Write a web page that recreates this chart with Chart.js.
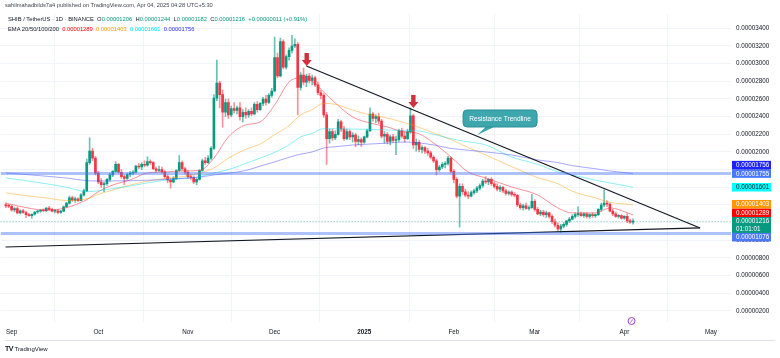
<!DOCTYPE html>
<html>
<head>
<meta charset="utf-8">
<title>SHIB / TetherUS 1D</title>
<script src="https://cdn.jsdelivr.net/npm/chart.js@4.4.1/dist/chart.umd.min.js"></script>
<style>
  body { margin: 0; background: #fff; font-family: "Liberation Sans", Arial, sans-serif; }
  #wrap { position: relative; width: 780px; height: 358px; overflow: hidden; }
  canvas { position: absolute; left: 0; top: 0; }
  .txt { position: absolute; white-space: nowrap; color: #131722; line-height: 1; }
  .g { color: #089981; }
  #axisline { position: absolute; left: 5px; top: 340px; width: 770px; height: 1px; background: #e0e3eb; }
</style>
</head>
<body>
<div id="wrap">
  <canvas id="chart" width="780" height="358"></canvas>
  <div class="txt" style="left:5px;top:3px;font-size:5.7px;color:#434651">sahilmahadbilds7a4 published on TradingView.com, Apr 04, 2025 04:28 UTC+5:30</div>
  <div class="txt" style="left:8px;top:17px;font-size:5.8px">SHIB / TetherUS · 1D · BINANCE&nbsp;&nbsp;O<span class="g">0.00001206</span>&nbsp;&nbsp;H<span class="g">0.00001244</span>&nbsp;&nbsp;L<span class="g">0.00001182</span>&nbsp;&nbsp;C<span class="g">0.00001216</span>&nbsp;&nbsp;<span class="g">+0.00000011 (+0.91%)</span></div>
  <div class="txt" style="left:8px;top:27px;font-size:5.8px">EMA 20/50/100/200&nbsp;&nbsp;<span style="color:#ff0000">0.00001289</span>&nbsp;&nbsp;<span style="color:#ff9800">0.00001403</span>&nbsp;&nbsp;<span style="color:#00e5ff">0.00001601</span>&nbsp;&nbsp;<span style="color:#2b2bff">0.00001756</span></div>
  <div id="axisline"></div>
  <div class="txt" style="left:5px;top:345px;font-size:6px"><b style="font-size:7px;letter-spacing:-0.5px">TV</b>&nbsp;TradingView</div>
</div>
<script>
// prices in units of 0.00000001 USDT, one candle per day
// day 0 = 2024-09-01, first candle 2024-08-30
const firstDay = -2;

const open = [
  1400,1390,1385,1345,1360,1310,1335,1315,1290,1280,
  1295,1320,1330,1340,1335,1365,1350,1330,1335,1315,
  1330,1380,1420,1480,1455,1470,1450,1515,1560,1880,
  2010,1930,1760,1660,1630,1640,1690,1740,1780,1860,
  1770,1720,1700,1745,1760,1770,1840,1830,1860,1850,
  1890,1880,1810,1790,1800,1775,1720,1680,1660,1700,
  1790,1880,1810,1770,1720,1710,1660,1690,1790,1900,
  1880,1930,2040,2610,2780,2650,2450,2560,2420,2490,
  2470,2500,2400,2450,2420,2460,2430,2540,2480,2550,
  2600,2560,2640,2690,3070,2860,3250,2960,3080,3150,
  3200,3220,2730,2870,2790,2860,2810,2840,2760,2670,
  2640,2420,2150,2230,2160,2200,2340,2260,2150,2230,
  2170,2190,2120,2140,2110,2170,2240,2430,2380,2400,
  2350,2180,2200,2120,2170,2130,2140,2240,2180,2150,
  2230,2410,2080,2110,2030,2050,2010,1990,1940,1900,
  1800,1830,1860,1870,1930,1780,1690,1500,1610,1550,
  1510,1500,1540,1560,1590,1620,1670,1660,1690,1640,
  1610,1580,1600,1560,1530,1545,1520,1510,1400,1370,
  1390,1360,1370,1440,1350,1300,1320,1290,1310,1270,
  1210,1170,1130,1160,1180,1220,1240,1270,1290,1300,
  1280,1300,1270,1290,1280,1290,1350,1400,1420,1410,
  1330,1300,1270,1280,1250,1270,1220,1206
];
const high = [
  1425,1410,1395,1370,1375,1345,1350,1330,1305,1300,
  1325,1340,1350,1355,1370,1385,1365,1345,1350,1340,
  1390,1430,1500,1500,1490,1480,1530,1580,1920,2160,
  2040,1950,1780,1700,1660,1700,1760,1790,1890,1870,
  1800,1740,1760,1780,1790,1850,1870,1880,1900,1945,
  1910,1890,1830,1840,1830,1790,1740,1700,1720,1800,
  1960,1900,1830,1790,1750,1730,1700,1800,1920,1940,
  1960,2060,2650,3040,2800,2700,2600,2600,2520,2560,
  2520,2560,2480,2500,2480,2500,2560,2570,2560,2620,
  2640,2660,2720,3300,3120,3290,3270,3100,3180,3320,
  3280,3240,2900,2950,2880,2890,2870,2860,2790,2700,
  2660,2450,2260,2260,2240,2370,2360,2290,2260,2250,
  2220,2210,2180,2160,2180,2260,2500,2450,2420,2440,
  2370,2230,2220,2190,2200,2180,2260,2270,2230,2260,
  2500,2430,2150,2130,2070,2060,2040,2010,1960,1920,
  1850,1880,1890,1950,1945,1800,1710,1640,1640,1580,
  1550,1560,1580,1610,1640,1690,1720,1700,1710,1660,
  1640,1620,1610,1580,1560,1560,1540,1520,1420,1410,
  1420,1390,1520,1460,1370,1340,1340,1330,1320,1290,
  1240,1200,1180,1200,1230,1260,1290,1310,1380,1320,
  1310,1310,1300,1310,1300,1360,1420,1570,1450,1420,
  1350,1320,1290,1290,1280,1300,1240,1244
];
const low = [
  1370,1370,1330,1320,1300,1300,1305,1255,1270,1250,
  1285,1305,1315,1320,1325,1340,1320,1310,1300,1305,
  1325,1370,1410,1440,1430,1440,1445,1500,1550,1860,
  1900,1740,1640,1600,1550,1620,1670,1720,1770,1760,
  1700,1630,1690,1720,1740,1760,1810,1800,1830,1840,
  1860,1800,1770,1780,1760,1700,1650,1590,1650,1690,
  1780,1790,1750,1700,1690,1640,1630,1680,1780,1860,
  1870,1910,2030,2580,2500,2280,2400,2380,2400,2440,
  2430,2360,2340,2380,2390,2410,2420,2450,2470,2520,
  2530,2550,2620,2680,2840,2850,2940,2940,3040,3120,
  3180,2420,2700,2760,2740,2780,2760,2740,2650,2600,
  2390,1860,2100,2130,2140,2190,2230,2130,2140,2140,
  2110,2060,2080,2060,2100,2160,2230,2350,2330,2320,
  2160,2100,2090,2080,2110,1970,2120,2160,2110,2140,
  2210,2040,2010,2000,1990,1980,1960,1920,1880,1740,
  1780,1810,1820,1850,1760,1650,1480,1150,1520,1490,
  1470,1490,1520,1540,1570,1600,1640,1630,1620,1590,
  1560,1550,1540,1510,1510,1500,1490,1380,1350,1340,
  1350,1340,1360,1330,1290,1280,1270,1260,1250,1190,
  1150,1100,1090,1140,1160,1200,1230,1250,1270,1270,
  1260,1250,1250,1260,1260,1280,1330,1380,1380,1320,
  1280,1260,1250,1240,1240,1200,1190,1182
];
const close = [
  1390,1385,1345,1360,1310,1335,1315,1290,1280,1295,
  1320,1330,1340,1335,1365,1350,1330,1335,1315,1330,
  1380,1420,1480,1455,1470,1450,1515,1560,1880,2010,
  1930,1760,1660,1630,1640,1690,1740,1780,1860,1770,
  1720,1700,1745,1760,1770,1840,1830,1860,1850,1890,
  1880,1810,1790,1800,1775,1720,1680,1660,1700,1790,
  1880,1810,1770,1720,1710,1660,1690,1790,1900,1880,
  1930,2040,2610,2780,2650,2450,2560,2420,2490,2470,
  2500,2400,2450,2420,2460,2430,2540,2480,2550,2600,
  2560,2640,2690,3070,2860,3250,2960,3080,3150,3200,
  3220,2730,2870,2790,2860,2810,2840,2760,2670,2640,
  2420,2150,2230,2160,2200,2340,2260,2150,2230,2170,
  2190,2120,2140,2110,2170,2240,2430,2380,2400,2350,
  2180,2200,2120,2170,2130,2140,2240,2180,2150,2230,
  2410,2080,2110,2030,2050,2010,1990,1940,1900,1800,
  1830,1860,1870,1930,1780,1690,1500,1610,1550,1510,
  1500,1540,1560,1590,1620,1670,1660,1690,1640,1610,
  1580,1600,1560,1530,1545,1520,1510,1400,1370,1390,
  1360,1370,1440,1350,1300,1320,1290,1310,1270,1210,
  1170,1130,1160,1180,1220,1240,1270,1290,1300,1280,
  1300,1270,1290,1280,1290,1350,1400,1420,1410,1330,
  1300,1270,1280,1250,1270,1220,1206,1216
];

// moving averages at these days
const emaDays = [-2,5,12,19,26,30,35,41,47,53,59,65,70,75,81,86,91,96,100,104,108,112,118,124,130,136,140,146,152,158,164,173,182,189,194,202,207,215];
const ema20  = [1420,1370,1340,1370,1460,1550,1626,1683,1762,1773,1785,1790,1930,2170,2306,2340,2532,2792,2838,2800,2679,2555,2396,2328,2283,2226,2215,2102,1943,1773,1706,1604,1513,1366,1310,1310,1366,1289];
const ema50  = [1536,1505,1480,1450,1470,1520,1570,1625,1670,1700,1720,1760,1820,1930,2030,2090,2195,2300,2420,2480,2550,2540,2475,2420,2385,2330,2290,2215,2140,2050,1966,1835,1710,1640,1555,1480,1430,1403];
const ema100 = [1706,1675,1640,1600,1550,1560,1585,1615,1650,1680,1700,1720,1762,1800,1870,1930,1995,2080,2170,2210,2265,2262,2260,2255,2250,2240,2240,2200,2150,2115,2080,1943,1860,1775,1740,1680,1650,1601];
const ema200 = [1762,1745,1725,1705,1675,1672,1672,1675,1680,1688,1700,1715,1740,1760,1790,1840,1888,1940,1975,2000,2045,2060,2079,2090,2100,2113,2105,2080,2040,2020,2000,1966,1910,1880,1845,1810,1785,1756];

// drawn levels and trendlines (day, price)
const levels = [1755, 1076];
const resistance = [[102, 2973], [238.2, 1140]];
const support = [[-2.1, 924], [238.2, 1140]];
const arrowTips = [[102.1, 2973], [139, 2498]];
const callout = { text: 'Resistance Trendline', at: [169, 2379], tip: [161.1, 2192] };

const monthDays = [0, 30, 61, 91, 122, 153, 181, 212, 242];
const monthLabels = ['Sep', 'Oct', 'Nov', 'Dec', '2025', 'Feb', 'Mar', 'Apr', 'May'];
const priceTicks = [200, 400, 600, 800, 1000, 1200, 1400, 1600, 1800, 2000, 2200, 2400, 2600, 2800, 3000, 3200, 3400];

const xMin = -3.8, xMax = 248.9;
const yMin = 75, yMax = 3562;

const UP = '#089981', DOWN = '#f23645';
const fmt = v => (v / 1e8).toFixed(8);
const days = close.map((c, i) => firstDay + i);
const last = close.length - 1;

const bodyColors = close.map((c, i) => c >= open[i] ? UP : DOWN);
const wickColors = close.map((c, i) => c >= open[i] ? 'rgba(8,153,129,0.6)' : 'rgba(242,54,69,0.55)');

Chart.defaults.font.family = '"Liberation Sans", Arial, sans-serif';

function emaLine(values, color) {
    return {
        type: 'line',
        data: emaDays.map((d, i) => ({ x: d, y: values[i] })),
        borderColor: color,
        borderWidth: 1,
        pointRadius: 0,
        cubicInterpolationMode: 'monotone',
        fill: false,
        order: 2
    };
}

function straight(points, color, width) {
    return {
        type: 'line',
        data: points.map(p => ({ x: p[0], y: p[1] })),
        borderColor: color,
        borderWidth: width,
        pointRadius: 0,
        fill: false,
        order: 1
    };
}

const overlay = {
    id: 'overlay',
    afterDatasetsDraw(chart) {
        const { ctx, chartArea: a, scales: { x, y } } = chart;
        ctx.save();

        // last price line
        const py = Math.round(y.getPixelForValue(close[last])) + 0.5;
        ctx.strokeStyle = 'rgba(8,153,129,0.5)';
        ctx.lineWidth = 1;
        ctx.setLineDash([1, 2]);
        ctx.beginPath();
        ctx.moveTo(a.left, py);
        ctx.lineTo(a.right, py);
        ctx.stroke();
        ctx.setLineDash([]);

        // red arrows
        ctx.fillStyle = '#d1303c';
        for (const t of arrowTips) {
            const px = x.getPixelForValue(t[0]);
            const ty = y.getPixelForValue(t[1]);
            ctx.beginPath();
            ctx.moveTo(px, ty);
            ctx.lineTo(px - 5, ty - 6);
            ctx.lineTo(px - 2.2, ty - 6);
            ctx.lineTo(px - 2.2, ty - 13);
            ctx.lineTo(px + 2.2, ty - 13);
            ctx.lineTo(px + 2.2, ty - 6);
            ctx.lineTo(px + 5, ty - 6);
            ctx.closePath();
            ctx.fill();
        }

        // callout box
        const cx = x.getPixelForValue(callout.at[0]);
        const cy = y.getPixelForValue(callout.at[1]);
        const tx = x.getPixelForValue(callout.tip[0]);
        const ty = y.getPixelForValue(callout.tip[1]);
        const w = 74, h = 17;
        ctx.fillStyle = '#3ea7ae';
        ctx.strokeStyle = '#2b8f97';
        ctx.lineWidth = 1;
        ctx.beginPath();
        ctx.moveTo(cx - 14, cy + h / 2 - 0.5);
        ctx.lineTo(tx, ty);
        ctx.lineTo(cx - 5, cy + h / 2 - 0.5);
        ctx.closePath();
        ctx.fill();
        ctx.beginPath();
        ctx.roundRect(cx - w / 2, cy - h / 2, w, h, 4);
        ctx.fill();
        ctx.stroke();
        ctx.fillStyle = '#ffffff';
        ctx.font = '6.6px "Liberation Sans", Arial, sans-serif';
        ctx.textAlign = 'center';
        ctx.textBaseline = 'middle';
        ctx.fillText(callout.text, cx, cy + 0.5);

        // event marker on time axis
        const ex = x.getPixelForValue(214.5);
        ctx.strokeStyle = '#a43ad6';
        ctx.fillStyle = '#ffffff';
        ctx.beginPath();
        ctx.arc(ex, a.bottom - 1, 3.5, 0, Math.PI * 2);
        ctx.fill();
        ctx.stroke();
        ctx.beginPath();
        ctx.moveTo(ex - 1.2, a.bottom + 0.2);
        ctx.lineTo(ex + 1.2, a.bottom - 2.2);
        ctx.stroke();
        ctx.restore();
    },
    afterDraw(chart) {
        const { ctx, chartArea: a, scales: { y } } = chart;
        // placed in priority order: last price, levels, then averages
        const tags = [
            { v: close[last], bg: UP, fg: '#fff', sub: '01:01:01' },
            { v: levels[0], bg: '#4a78f7', fg: '#fff' },
            { v: levels[1], bg: '#4a78f7', fg: '#fff' },
            { v: ema200[ema200.length - 1], bg: '#1f22ff', fg: '#fff' },
            { v: ema100[ema100.length - 1], bg: '#00ffff', fg: '#131722' },
            { v: ema20[ema20.length - 1], bg: '#ff0000', fg: '#fff' },
            { v: ema50[ema50.length - 1], bg: '#ff9800', fg: '#fff' }
        ];
        const placed = [];
        ctx.save();
        ctx.font = '6.3px "Liberation Sans", Arial, sans-serif';
        ctx.textBaseline = 'middle';
        ctx.textAlign = 'left';
        for (const t of tags) {
            const h = t.sub ? 16 : 8.5;
            const yc = y.getPixelForValue(t.v);
            let top = yc - 4.25;
            for (const p of placed) {
                if (top < p.bottom && top + h > p.top) {
                    top = yc < (p.top + p.bottom) / 2 ? p.top - h : p.bottom;
                }
            }
            placed.push({ top, bottom: top + h });
            ctx.fillStyle = t.bg;
            ctx.fillRect(a.right + 1, top, 39, h);
            ctx.fillStyle = t.fg;
            ctx.fillText(fmt(t.v), a.right + 5, top + 4.5);
            if (t.sub) ctx.fillText(t.sub, a.right + 5, top + 12);
        }
        ctx.restore();
    }
};

const ctx = document.getElementById('chart').getContext('2d');
new Chart(ctx, {
    type: 'bar',
    data: {
        datasets: [
            straight([[xMin, levels[0]], [xMax, levels[0]]], 'rgba(74,120,247,0.45)', 3),
            straight([[xMin, levels[1]], [xMax, levels[1]]], 'rgba(74,120,247,0.45)', 3),
            {
                type: 'bar',
                data: days.map((d, i) => ({ x: d, y: [low[i], high[i]] })),
                backgroundColor: wickColors,
                barThickness: 1,
                grouped: false,
                order: 4
            },
            {
                type: 'bar',
                data: days.map((d, i) => ({ x: d, y: [open[i], close[i]] })),
                backgroundColor: bodyColors,
                barThickness: 2,
                minBarLength: 1,
                grouped: false,
                order: 3
            },
            emaLine(ema200, 'rgba(60,60,255,0.45)'),
            emaLine(ema100, 'rgba(0,220,230,0.45)'),
            emaLine(ema50, 'rgba(255,152,0,0.45)'),
            emaLine(ema20, 'rgba(242,54,69,0.55)'),
            straight(resistance, '#131722', 1.2),
            straight(support, '#131722', 1.2)
        ]
    },
    options: {
        responsive: false,
        animation: false,
        devicePixelRatio: 1,
        layout: { padding: { top: 14, right: 9, bottom: 18, left: 0 } },
        plugins: { legend: { display: false }, tooltip: { enabled: false } },
        scales: {
            x: {
                type: 'linear',
                min: xMin,
                max: xMax,
                offset: false,
                grid: { color: '#f0f3f7', drawTicks: false },
                border: { display: false },
                afterBuildTicks: s => { s.ticks = monthDays.map(v => ({ value: v })); },
                afterFit: s => { s.height = 18; },
                ticks: {
                    padding: 6,
                    maxRotation: 0,
                    autoSkip: false,
                    color: '#131722',
                    font: c => ({ size: 6.3, weight: c.index === 4 ? 'bold' : 'normal' }),
                    callback: (v, i) => monthLabels[i]
                }
            },
            y: {
                position: 'right',
                min: yMin,
                max: yMax,
                grid: { color: '#f0f3f7', drawTicks: false },
                border: { display: false },
                afterBuildTicks: s => { s.ticks = priceTicks.map(v => ({ value: v })); },
                afterFit: s => { s.width = 40; },
                ticks: {
                    padding: 5,
                    color: '#131722',
                    font: { size: 6.3 },
                    callback: v => fmt(v)
                }
            }
        }
    },
    plugins: [overlay]
});
</script>
</body>
</html>
